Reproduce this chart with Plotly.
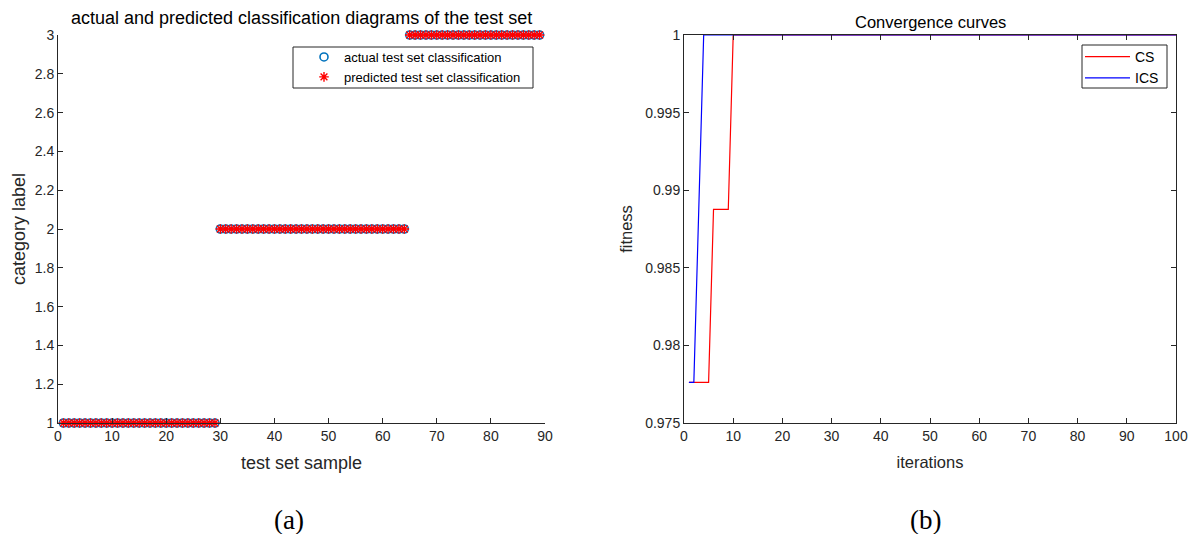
import plotly.graph_objects as go

# ---------------- data ----------------
sample_index = [
    1, 2, 3, 4, 5, 6, 7, 8, 9, 10, 11, 12, 13, 14, 15, 16, 17, 18, 19, 20,
    21, 22, 23, 24, 25, 26, 27, 28, 29, 30, 31, 32, 33, 34, 35, 36, 37, 38, 39, 40,
    41, 42, 43, 44, 45, 46, 47, 48, 49, 50, 51, 52, 53, 54, 55, 56, 57, 58, 59, 60,
    61, 62, 63, 64, 65, 66, 67, 68, 69, 70, 71, 72, 73, 74, 75, 76, 77, 78, 79, 80,
    81, 82, 83, 84, 85, 86, 87, 88, 89,
]
actual_class = [
    1, 1, 1, 1, 1, 1, 1, 1, 1, 1, 1, 1, 1, 1, 1, 1, 1, 1, 1, 1,
    1, 1, 1, 1, 1, 1, 1, 1, 1, 2, 2, 2, 2, 2, 2, 2, 2, 2, 2, 2,
    2, 2, 2, 2, 2, 2, 2, 2, 2, 2, 2, 2, 2, 2, 2, 2, 2, 2, 2, 2,
    2, 2, 2, 2, 3, 3, 3, 3, 3, 3, 3, 3, 3, 3, 3, 3, 3, 3, 3, 3,
    3, 3, 3, 3, 3, 3, 3, 3, 3,
]
predicted_class = [
    1, 1, 1, 1, 1, 1, 1, 1, 1, 1, 1, 1, 1, 1, 1, 1, 1, 1, 1, 1,
    1, 1, 1, 1, 1, 1, 1, 1, 1, 2, 2, 2, 2, 2, 2, 2, 2, 2, 2, 2,
    2, 2, 2, 2, 2, 2, 2, 2, 2, 2, 2, 2, 2, 2, 2, 2, 2, 2, 2, 2,
    2, 2, 2, 2, 3, 3, 3, 3, 3, 3, 3, 3, 3, 3, 3, 3, 3, 3, 3, 3,
    3, 3, 3, 3, 3, 3, 3, 3, 3,
]

iterations = [
    1, 2, 3, 4, 5, 6, 7, 8, 9, 10, 11, 12, 13, 14, 15, 16, 17, 18, 19, 20,
    21, 22, 23, 24, 25, 26, 27, 28, 29, 30, 31, 32, 33, 34, 35, 36, 37, 38, 39, 40,
    41, 42, 43, 44, 45, 46, 47, 48, 49, 50, 51, 52, 53, 54, 55, 56, 57, 58, 59, 60,
    61, 62, 63, 64, 65, 66, 67, 68, 69, 70, 71, 72, 73, 74, 75, 76, 77, 78, 79, 80,
    81, 82, 83, 84, 85, 86, 87, 88, 89, 90, 91, 92, 93, 94, 95, 96, 97, 98, 99, 100,
]
cs_fitness = [
    0.97762, 0.97762, 0.97762, 0.97762, 0.97762, 0.98876, 0.98876, 0.98876, 0.98876, 1,
    1, 1, 1, 1, 1, 1, 1, 1, 1, 1,
    1, 1, 1, 1, 1, 1, 1, 1, 1, 1,
    1, 1, 1, 1, 1, 1, 1, 1, 1, 1,
    1, 1, 1, 1, 1, 1, 1, 1, 1, 1,
    1, 1, 1, 1, 1, 1, 1, 1, 1, 1,
    1, 1, 1, 1, 1, 1, 1, 1, 1, 1,
    1, 1, 1, 1, 1, 1, 1, 1, 1, 1,
    1, 1, 1, 1, 1, 1, 1, 1, 1, 1,
    1, 1, 1, 1, 1, 1, 1, 1, 1, 1,
]
ics_fitness = [
    0.97762, 0.97762, 0.98876, 1, 1, 1, 1, 1, 1, 1,
    1, 1, 1, 1, 1, 1, 1, 1, 1, 1,
    1, 1, 1, 1, 1, 1, 1, 1, 1, 1,
    1, 1, 1, 1, 1, 1, 1, 1, 1, 1,
    1, 1, 1, 1, 1, 1, 1, 1, 1, 1,
    1, 1, 1, 1, 1, 1, 1, 1, 1, 1,
    1, 1, 1, 1, 1, 1, 1, 1, 1, 1,
    1, 1, 1, 1, 1, 1, 1, 1, 1, 1,
    1, 1, 1, 1, 1, 1, 1, 1, 1, 1,
    1, 1, 1, 1, 1, 1, 1, 1, 1, 1,
]

left_x_ticks = [0, 10, 20, 30, 40, 50, 60, 70, 80, 90]
left_y_ticks = [1, 1.2, 1.4, 1.6, 1.8, 2, 2.2, 2.4, 2.6, 2.8, 3]
left_y_labels = ["1", "1.2", "1.4", "1.6", "1.8", "2", "2.2", "2.4", "2.6", "2.8", "3"]
right_x_ticks = [0, 10, 20, 30, 40, 50, 60, 70, 80, 90, 100]
right_y_ticks = [0.975, 0.98, 0.985, 0.99, 0.995, 1]
right_y_labels = ["0.975", "0.98", "0.985", "0.99", "0.995", "1"]

# ---------------- figure ----------------
# The page body has a default 8px margin, so the figure is drawn 8px in
# from the window's top-left corner; positions below are window pixels.
OFF = 8
W, H = 1198 - OFF, 534 - OFF
AX = "#262626"
FONT = "Liberation Sans, Arial, sans-serif"
SERIF = "Liberation Serif, Times New Roman, serif"

def px_x(p):
    return (p - OFF) / W

def px_y(p):
    return 1 - (p - OFF) / H

fig = go.Figure()

fig.add_trace(go.Scatter(
    x=sample_index, y=actual_class, mode="markers",
    name="actual test set classification",
    marker=dict(symbol="circle-open", size=8, color="#0072BD", line=dict(width=1.6, color="#0072BD")),
    cliponaxis=False, xaxis="x", yaxis="y", legend="legend",
))
fig.add_trace(go.Scatter(
    x=sample_index, y=predicted_class, mode="markers",
    name="predicted test set classification",
    marker=dict(symbol="asterisk-open", size=8, color="#FF0000", line=dict(width=1.4, color="#FF0000")),
    cliponaxis=False, xaxis="x", yaxis="y", legend="legend",
))

fig.add_trace(go.Scatter(
    x=iterations, y=cs_fitness, mode="lines", name="CS",
    line=dict(color="#FF0000", width=1.2),
    xaxis="x2", yaxis="y2", legend="legend2", cliponaxis=False,
))
fig.add_trace(go.Scatter(
    x=iterations, y=ics_fitness, mode="lines", name="ICS",
    line=dict(color="#0000FF", width=1.2),
    xaxis="x2", yaxis="y2", legend="legend2", cliponaxis=False,
))

common_axis = dict(
    showgrid=False, zeroline=False, showline=True, linecolor=AX, linewidth=1,
    ticks="inside", ticklen=5, tickcolor=AX, tickwidth=1, automargin=False,
    tickfont=dict(family=FONT, size=14, color=AX),
)

fig.update_layout(
    width=W, height=H,
    margin=dict(l=0, r=0, t=0, b=0, autoexpand=False),
    paper_bgcolor="white", plot_bgcolor="white",
    font=dict(family=FONT, color=AX),
    xaxis=dict(
        domain=[px_x(58), px_x(545)], range=[0, 90],
        tickvals=left_x_ticks, anchor="y",
        title=dict(text="test set sample", font=dict(family=FONT, size=18, color=AX), standoff=13),
        **common_axis,
    ),
    yaxis=dict(
        domain=[px_y(423), px_y(35)], range=[1, 3],
        tickvals=left_y_ticks, ticktext=left_y_labels, anchor="x",
        title=dict(text="category label", font=dict(family=FONT, size=18, color=AX), standoff=4),
        **common_axis,
    ),
    xaxis2=dict(
        domain=[px_x(684), px_x(1176)], range=[0, 100],
        tickvals=right_x_ticks, anchor="y2", mirror="ticks",
        title=dict(text="iterations", font=dict(family=FONT, size=16.5, color=AX), standoff=13),
        **common_axis,
    ),
    yaxis2=dict(
        domain=[px_y(423), px_y(35)], range=[0.975, 1],
        tickvals=right_y_ticks, ticktext=right_y_labels, anchor="x2", mirror="ticks",
        title=dict(text="fitness", font=dict(family=FONT, size=16.5, color=AX), standoff=8),
        **common_axis,
    ),
    legend=dict(
        x=px_x(304), y=px_y(42), xanchor="left", yanchor="top",
        bgcolor="rgba(0,0,0,0)", borderwidth=0,
        font=dict(family=FONT, size=13, color="black"),
        tracegroupgap=0, itemwidth=30,
    ),
    legend2=dict(
        x=px_x(1080), y=px_y(41), xanchor="left", yanchor="top",
        bgcolor="rgba(0,0,0,0)", borderwidth=0,
        font=dict(family=FONT, size=14, color="black"),
        tracegroupgap=0, itemwidth=45,
    ),
    showlegend=True,
    shapes=[
        dict(type="rect", xref="paper", yref="paper",
             x0=px_x(293), x1=px_x(533), y0=px_y(88), y1=px_y(47),
             line=dict(color=AX, width=1), fillcolor="white", layer="below"),
        dict(type="rect", xref="paper", yref="paper",
             x0=px_x(1082), x1=px_x(1167), y0=px_y(88), y1=px_y(45),
             line=dict(color=AX, width=1), fillcolor="white", layer="below"),
    ],
    annotations=[
        dict(text="actual and predicted classification diagrams of the test set",
             x=px_x(301), y=px_y(18), xref="paper", yref="paper",
             xanchor="center", yanchor="middle",
             showarrow=False, font=dict(family=FONT, size=18, color="black")),
        dict(text="Convergence curves",
             x=px_x(930), y=px_y(22), xref="paper", yref="paper",
             xanchor="center", yanchor="middle",
             showarrow=False, font=dict(family=FONT, size=16.5, color="black")),
        dict(text="(a)", x=px_x(289), y=px_y(520), xref="paper", yref="paper",
             xanchor="center", yanchor="middle",
             showarrow=False, font=dict(family=SERIF, size=27, color="black")),
        dict(text="(b)", x=px_x(925), y=px_y(520), xref="paper", yref="paper",
             xanchor="center", yanchor="middle",
             showarrow=False, font=dict(family=SERIF, size=27, color="black")),
    ],
)

fig.write_html("out.html")
